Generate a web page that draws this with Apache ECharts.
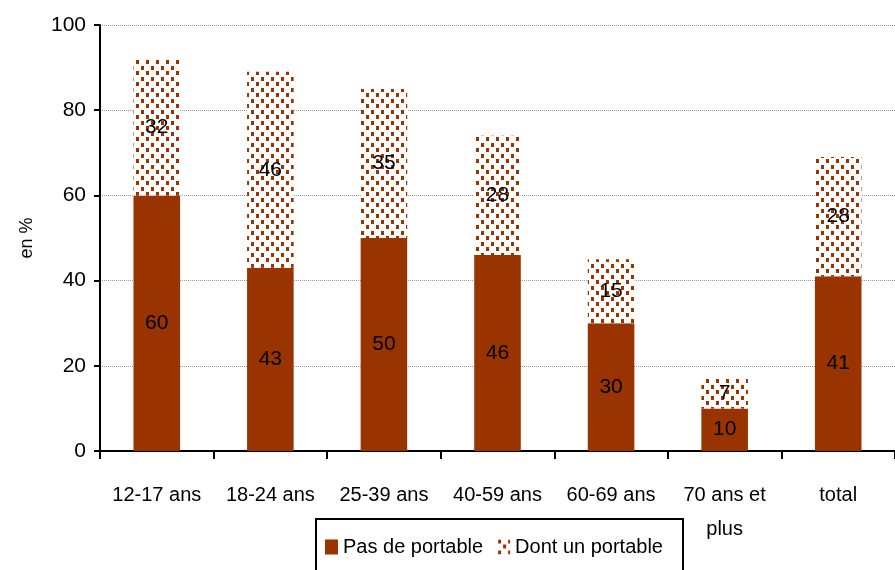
<!DOCTYPE html>
<html>
<head>
<meta charset="utf-8">
<script src="https://cdn.jsdelivr.net/npm/echarts@6/dist/echarts.min.js"></script>
<style>
  html, body { margin: 0; padding: 0; background: #fff; }
  #chart { width: 895px; height: 570px; }
</style>
</head>
<body>
<div id="chart"></div>
<script>
// données
const categories = ['12-17 ans', '18-24 ans', '25-39 ans', '40-59 ans', '60-69 ans', '70 ans et\nplus', 'total']
const pasDePortable = [60, 43, 50, 46, 30, 10, 41]
const dontPortable = [32, 46, 35, 28, 15, 7, 28]
const yTicks = [0, 20, 40, 60, 80, 100]

const brown = '#993300'
const font = '"Liberation Sans", Arial, sans-serif'

// motif pointillé pour "Dont un portable"
const makePattern = () => {
  const c = document.createElement('canvas')
  c.width = 10
  c.height = 11
  const ctx = c.getContext('2d')
  ctx.fillStyle = '#fff'
  ctx.fillRect(0, 0, 10, 11)
  ctx.fillStyle = brown
  ctx.fillRect(1, 0, 3, 4)
  ctx.fillRect(6, 5, 3, 4)
  return c
}

const chart = echarts.init(document.getElementById('chart'))

const labelStyle = {
  show: true,
  position: 'inside',
  color: '#000',
  fontFamily: font,
  fontSize: 21
}

chart.setOption({
  animation: false,
  textStyle: { fontFamily: font },
  grid: { left: 100, right: 0, top: 25, bottom: 119 },
  legend: {
    left: 316,
    top: 519,
    padding: [18, 20, 30, 9],
    borderColor: '#000',
    borderWidth: 2,
    itemWidth: 13,
    itemHeight: 15,
    itemGap: 14,
    textStyle: { fontFamily: font, fontSize: 20, color: '#000' },
    data: [
      { name: 'Pas de portable', icon: 'rect' },
      { name: 'Dont un portable', icon: 'rect' }
    ]
  },
  xAxis: {
    type: 'category',
    data: categories,
    axisLine: { lineStyle: { color: '#000', width: 2 } },
    axisTick: { show: true, length: 8, lineStyle: { color: '#000', width: 2 } },
    axisLabel: {
      interval: 0,
      color: '#000',
      fontSize: 20,
      fontFamily: font,
      margin: 27,
      lineHeight: 34,
      verticalAlign: 'top'
    }
  },
  yAxis: {
    type: 'value',
    min: yTicks[0],
    max: yTicks[yTicks.length - 1],
    interval: 20,
    name: 'en %',
    nameLocation: 'middle',
    nameRotate: 90,
    nameGap: 64,
    nameTextStyle: { color: '#000', fontSize: 18, fontFamily: font },
    axisLine: { show: true, lineStyle: { color: '#000', width: 2 } },
    axisTick: { show: true, length: 6, lineStyle: { color: '#000', width: 2 } },
    axisLabel: { color: '#000', fontSize: 21, fontFamily: font, margin: 14 },
    splitLine: { show: true, lineStyle: { color: '#999', type: 'dotted', width: 1 } }
  },
  series: [
    {
      name: 'Pas de portable',
      type: 'bar',
      stack: 'total',
      barWidth: '41%',
      data: pasDePortable,
      itemStyle: { color: brown },
      label: labelStyle
    },
    {
      name: 'Dont un portable',
      type: 'bar',
      stack: 'total',
      barWidth: '41%',
      data: dontPortable,
      itemStyle: { color: { image: makePattern(), repeat: 'repeat' } },
      label: labelStyle
    }
  ]
})
</script>
</body>
</html>
